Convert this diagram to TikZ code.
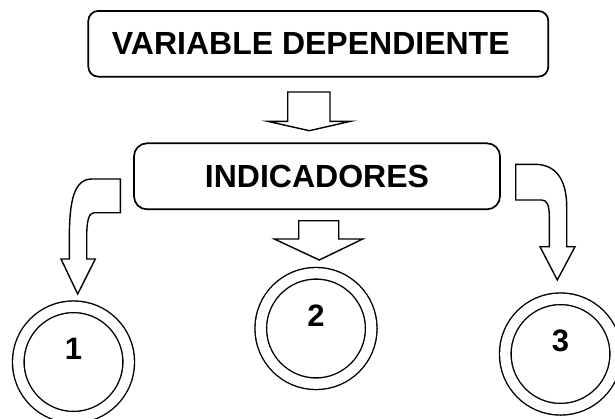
\documentclass[tikz,border=0pt]{standalone}
\usepackage{fontspec}
\setmainfont{Liberation Sans}
\begin{document}
\begin{tikzpicture}[x=1pt,y=-1pt,
  boxlbl/.style={draw=black, line width=1.7pt, fill=white, inner sep=0pt,
    font=\fontsize{32}{38}\selectfont\bfseries},
  blockarrow/.style={draw=black, line width=1.4pt, fill=white, line join=miter},
  ring/.style={circle, draw=black, line width=1.4pt, double=white, double distance=10.2pt,
    minimum size=110.5pt, inner sep=0pt},
  num/.style={inner sep=0pt, font=\fontsize{31}{36}\selectfont\bfseries}]
\useasboundingbox (0,0) rectangle (615,418);
% top box
\node[boxlbl, rounded corners=10pt, minimum width=460pt, minimum height=65.7pt]
  (vd) at (318.3,43.8) {VARIABLE DEPENDIENTE\kern15pt\relax};
% indicadores box
\node[boxlbl, rounded corners=13pt, minimum width=366pt, minimum height=66pt]
  (ind) at (317,176.3) {INDICADORES};
% straight arrow top
\draw[blockarrow] (287.7,92) -- (330,92) -- (330,121.3) -- (350.7,121.3)
  -- (309.3,130.7) -- (267.7,121.3) -- (287.7,121.3) -- cycle;
% straight arrow middle
\draw[blockarrow] (298.7,220.7) -- (338.7,220.7) -- (338.7,239) -- (362.7,239)
  -- (319.3,260) -- (274.3,239) -- (298.7,239) -- cycle;
% left curved arrow
\draw[blockarrow] (92,179) -- (120.3,179) -- (120.3,212.7) -- (94,212.7)
  .. controls (88.5,212.7) and (86.7,222) .. (86.7,237) -- (86.7,259)
  -- (95.3,259) -- (77.7,294) -- (61,259) -- (69.3,259) -- (69.3,240)
  .. controls (69.3,200) and (74,179) .. (92,179) -- cycle;
% right curved arrow
\draw[blockarrow] (515.7,164.3) -- (535,164.3)
  .. controls (556,164.3) and (566.7,180) .. (566.7,206.7) -- (566.7,246.7)
  -- (575,246.7) -- (557.3,280) -- (540,246.7) -- (549.3,246.7) -- (549.3,216.7)
  .. controls (549.3,205) and (547,200) .. (541.7,200) -- (515.7,200) -- cycle;
% circles
\node[ring] (c1) at (73.5,362) {};
\node[ring] (c2) at (316,328.5) {};
\node[ring] (c3) at (560.5,354) {};
\node[num] (n1) at ([yshift=13pt]c1.center) {1};
\node[num] (n2) at ([yshift=12.5pt]c2.center) {2};
\node[num] (n3) at ([yshift=13.5pt]c3.center) {3};
\end{tikzpicture}
\end{document}
